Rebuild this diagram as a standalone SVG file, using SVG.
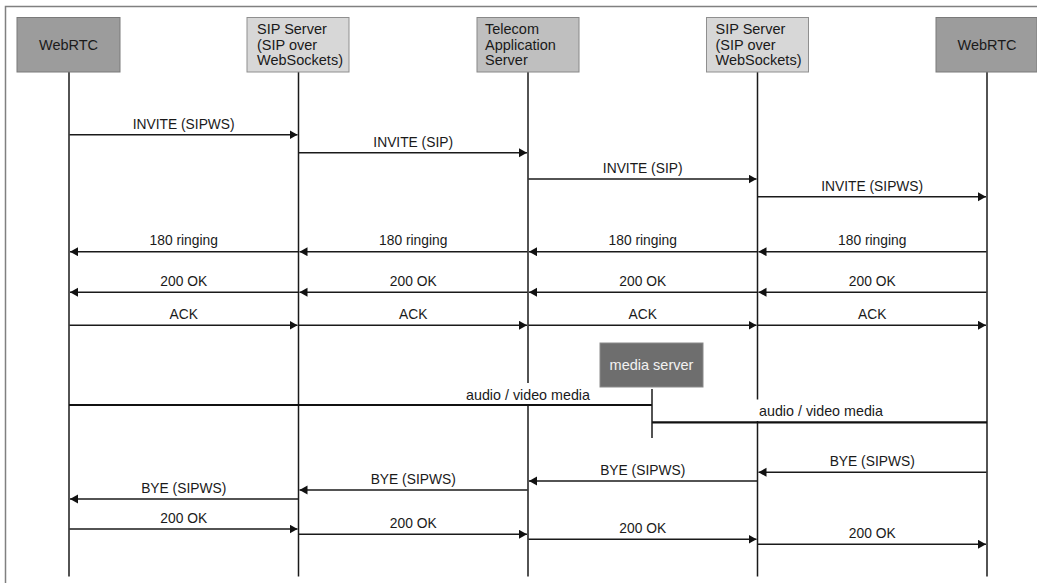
<svg xmlns="http://www.w3.org/2000/svg" width="1037" height="583" viewBox="0 0 1037 583">
<defs>
<marker id="ah" markerUnits="userSpaceOnUse" markerWidth="9" markerHeight="10" refX="8" refY="4.5" orient="auto">
<path d="M0,0 L8,4.5 L0,9 Z" fill="#111"/>
</marker>
<style>
text{font-family:"Liberation Sans",Arial,sans-serif;fill:#1a1a1a}
.lbl{font-size:13.8px;text-anchor:middle}
.box text{font-size:14.5px}
.life{stroke:#1a1a1a;stroke-width:1.5;fill:none}
.msg{stroke:#1a1a1a;stroke-width:1.5;fill:none;marker-end:url(#ah)}
.media{stroke:#111;stroke-width:2.2;fill:none}
.web{fill:#9c9c9c;stroke:#7a7a7a;stroke-width:1}
.sip{fill:#d7d7d7;stroke:#8f8f8f;stroke-width:1}
.tel{fill:#bfbfbf;stroke:#888;stroke-width:1}
</style>
</defs>
<rect x="0" y="0" width="1037" height="583" fill="#fff"/>
<path d="M5.5,583 L5.5,6.5 L1037,6.5" fill="none" stroke="#808080" stroke-width="1.5"/>

<g id="lifelines">
<line class="life" x1="69" y1="72" x2="69" y2="576.5"/>
<line class="life" x1="298.5" y1="72" x2="298.5" y2="576.5"/>
<line class="life" x1="528" y1="72" x2="528" y2="576.5"/>
<line class="life" x1="757.5" y1="72" x2="757.5" y2="576.5"/>
<line class="life" x1="987" y1="72" x2="987" y2="576.5"/>
</g>

<g id="node-webrtc-left" class="box">
<rect class="web" x="17" y="17.5" width="103" height="54.5"/>
<text x="68.5" y="49.5" text-anchor="middle">WebRTC</text>
</g>
<g id="node-sip-left" class="box">
<rect class="sip" x="247" y="17.5" width="102" height="54.5"/>
<text x="257" y="34">SIP Server</text>
<text x="257" y="49.5">(SIP over</text>
<text x="257" y="65">WebSockets)</text>
</g>
<g id="node-telecom" class="box">
<rect class="tel" x="477" y="17.5" width="102" height="54.5"/>
<text x="485" y="34">Telecom</text>
<text x="485" y="49.5">Application</text>
<text x="485" y="65">Server</text>
</g>
<g id="node-sip-right" class="box">
<rect class="sip" x="706.5" y="17.5" width="102" height="54.5"/>
<text x="715.5" y="34">SIP Server</text>
<text x="715.5" y="49.5">(SIP over</text>
<text x="715.5" y="65">WebSockets)</text>
</g>
<g id="node-webrtc-right" class="box">
<rect class="web" x="936" y="17.5" width="101" height="54.5"/>
<text x="987" y="49.5" text-anchor="middle">WebRTC</text>
</g>

<g id="connectors">
<line class="msg" x1="69.5" y1="134.7" x2="297.5" y2="134.7"/>
<line class="msg" x1="299" y1="152.7" x2="527" y2="152.7"/>
<line class="msg" x1="528.5" y1="179" x2="756.5" y2="179"/>
<line class="msg" x1="758" y1="196.7" x2="986" y2="196.7"/>

<line class="msg" x1="298" y1="251.7" x2="70" y2="251.7"/>
<line class="msg" x1="527.5" y1="251.7" x2="299.5" y2="251.7"/>
<line class="msg" x1="757" y1="251.7" x2="529" y2="251.7"/>
<line class="msg" x1="986.5" y1="251.7" x2="758.5" y2="251.7"/>

<line class="msg" x1="298" y1="292.3" x2="70" y2="292.3"/>
<line class="msg" x1="527.5" y1="292.3" x2="299.5" y2="292.3"/>
<line class="msg" x1="757" y1="292.3" x2="529" y2="292.3"/>
<line class="msg" x1="986.5" y1="292.3" x2="758.5" y2="292.3"/>

<line class="msg" x1="69.5" y1="325.3" x2="297.5" y2="325.3"/>
<line class="msg" x1="299" y1="325.3" x2="527" y2="325.3"/>
<line class="msg" x1="528.5" y1="325.3" x2="756.5" y2="325.3"/>
<line class="msg" x1="758" y1="325.3" x2="986" y2="325.3"/>

<line class="msg" x1="986.5" y1="472.3" x2="758.5" y2="472.3"/>
<line class="msg" x1="757" y1="481" x2="529" y2="481"/>
<line class="msg" x1="527.5" y1="490" x2="299.5" y2="490"/>
<line class="msg" x1="298" y1="499" x2="70" y2="499"/>

<line class="msg" x1="69.5" y1="529" x2="297.5" y2="529"/>
<line class="msg" x1="299" y1="534.3" x2="527" y2="534.3"/>
<line class="msg" x1="528.5" y1="539.3" x2="756.5" y2="539.3"/>
<line class="msg" x1="758" y1="544.3" x2="986" y2="544.3"/>

<rect x="460" y="383" width="136" height="21" fill="#fff"/>
<rect x="753" y="399.5" width="136" height="21.5" fill="#fff"/>
<line class="media" x1="69" y1="405" x2="652" y2="405"/>
<line class="media" x1="652" y1="422.3" x2="987" y2="422.3"/>
<line x1="652" y1="389" x2="652" y2="438" stroke="#1a1a1a" stroke-width="1.5"/>
</g>

<g id="node-media-server">
<rect x="600" y="343" width="103" height="44" fill="#6e6e6e" stroke="#8a8a8a" stroke-width="1"/>
<text x="651.5" y="370" text-anchor="middle" font-size="14.5" style="fill:#f2f2f2">media server</text>
</g>

<g id="labels">
<text class="lbl" x="183.7" y="128.7">INVITE (SIPWS)</text>
<text class="lbl" x="413.2" y="146.7">INVITE (SIP)</text>
<text class="lbl" x="642.7" y="173">INVITE (SIP)</text>
<text class="lbl" x="872.2" y="190.7">INVITE (SIPWS)</text>

<text class="lbl" x="183.7" y="245.2">180 ringing</text>
<text class="lbl" x="413.2" y="245.2">180 ringing</text>
<text class="lbl" x="642.7" y="245.2">180 ringing</text>
<text class="lbl" x="872.2" y="245.2">180 ringing</text>

<text class="lbl" x="183.7" y="286.3">200 OK</text>
<text class="lbl" x="413.2" y="286.3">200 OK</text>
<text class="lbl" x="642.7" y="286.3">200 OK</text>
<text class="lbl" x="872.2" y="286.3">200 OK</text>

<text class="lbl" x="183.7" y="319.3">ACK</text>
<text class="lbl" x="413.2" y="319.3">ACK</text>
<text class="lbl" x="642.7" y="319.3">ACK</text>
<text class="lbl" x="872.2" y="319.3">ACK</text>

<text x="528" y="400" text-anchor="middle" font-size="14.3">audio / video media</text>
<text x="821" y="416" text-anchor="middle" font-size="14.3">audio / video media</text>

<text class="lbl" x="872.2" y="466.3">BYE (SIPWS)</text>
<text class="lbl" x="642.7" y="475">BYE (SIPWS)</text>
<text class="lbl" x="413.2" y="484">BYE (SIPWS)</text>
<text class="lbl" x="183.7" y="493">BYE (SIPWS)</text>

<text class="lbl" x="183.7" y="523">200 OK</text>
<text class="lbl" x="413.2" y="528.3">200 OK</text>
<text class="lbl" x="642.7" y="533.3">200 OK</text>
<text class="lbl" x="872.2" y="538.3">200 OK</text>
</g>
</svg>
